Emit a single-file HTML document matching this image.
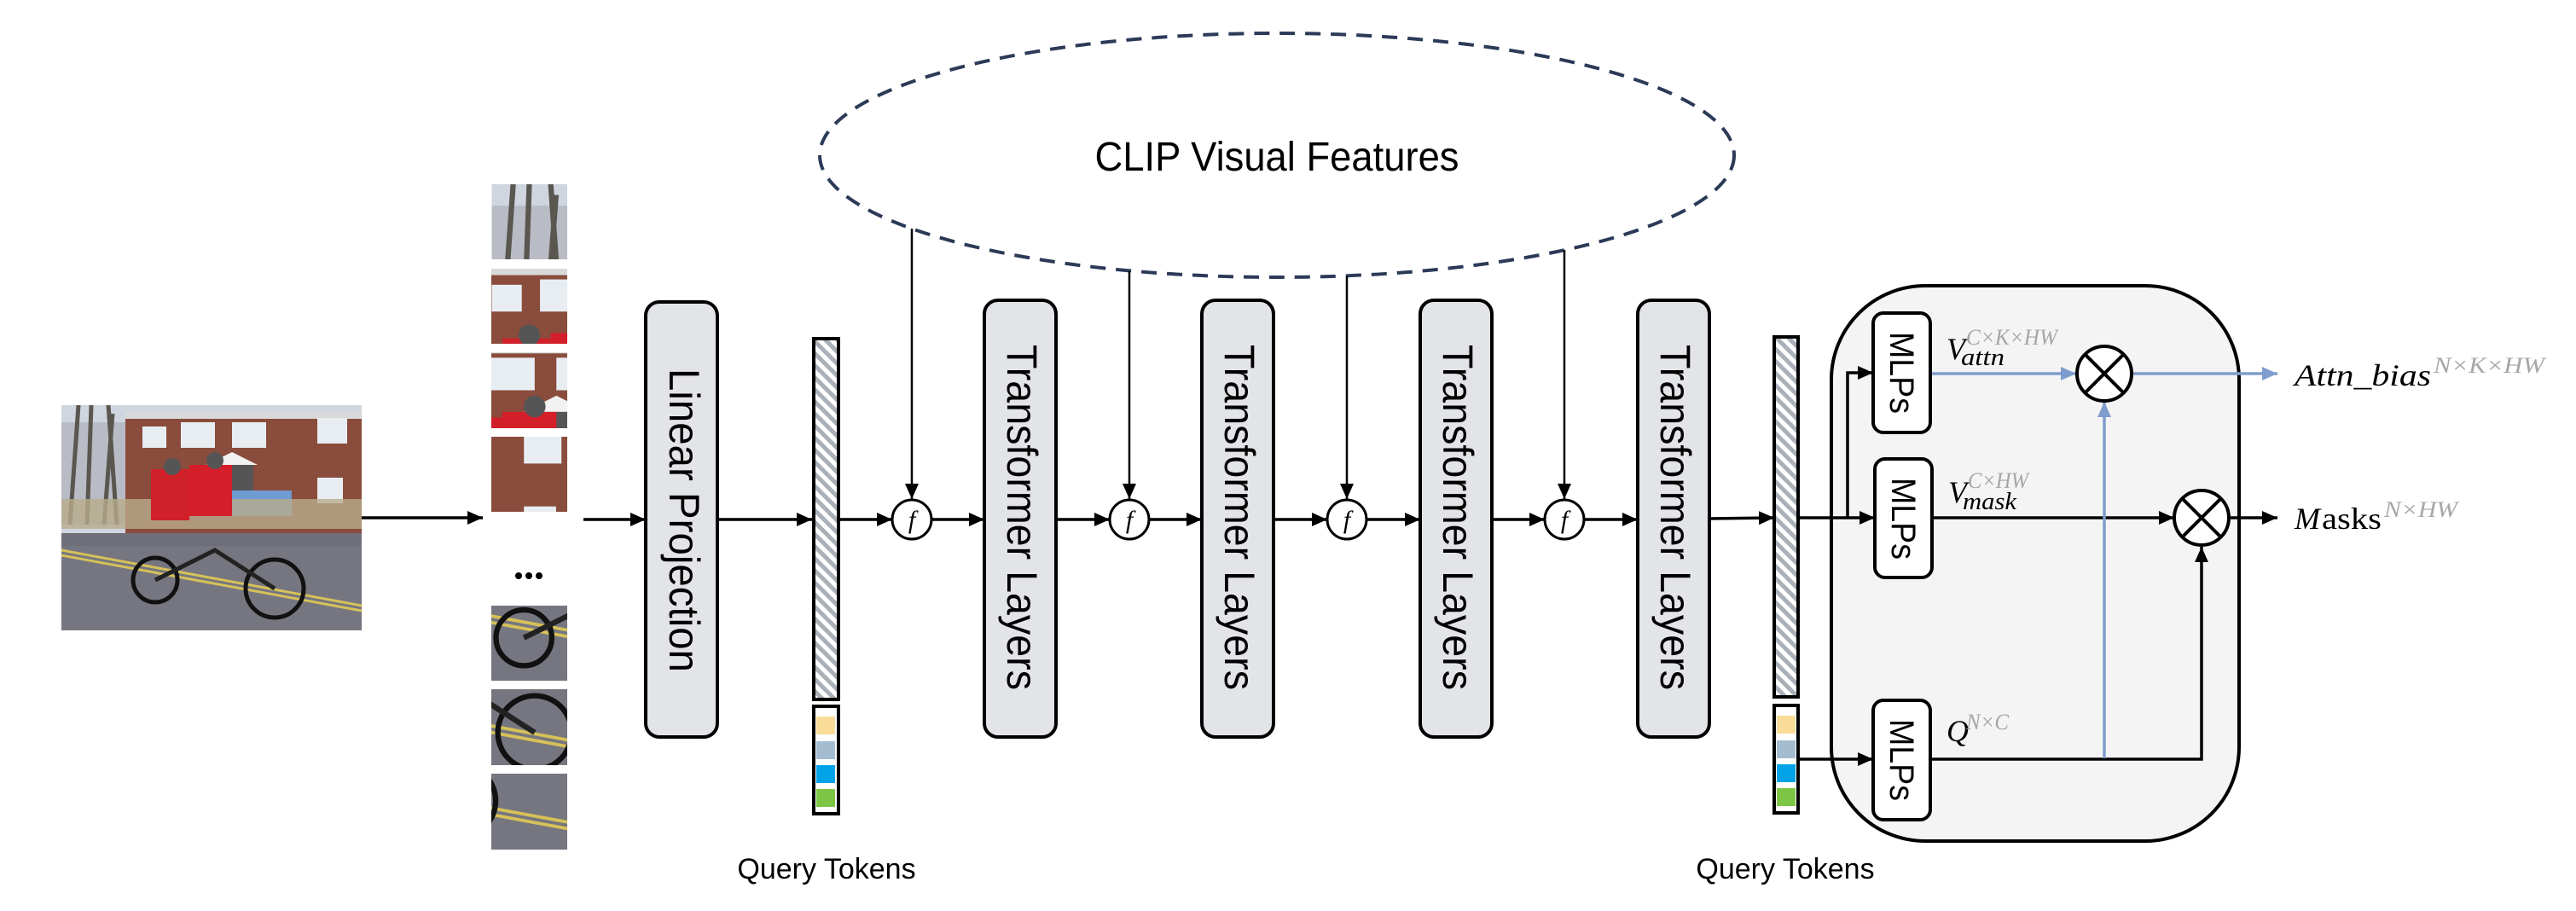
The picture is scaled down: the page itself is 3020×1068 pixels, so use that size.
<!DOCTYPE html>
<html><head><meta charset="utf-8"><style>
html,body{margin:0;padding:0;background:#fff;}
svg{display:block;}
.t{font-family:"Liberation Sans",sans-serif;}
.m{font-family:"Liberation Serif",serif;font-style:italic;}
.g{fill:#a6a6a6;}
</style></head><body>
<svg width="3020" height="1068" viewBox="0 0 3020 1068" xmlns="http://www.w3.org/2000/svg">
<defs>
<marker id="ab" markerUnits="userSpaceOnUse" markerWidth="20" markerHeight="20" refX="18" refY="10" orient="auto"><path d="M0,2 L18,10 L0,18 Z" fill="#000"/></marker>
<marker id="abl" markerUnits="userSpaceOnUse" markerWidth="20" markerHeight="20" refX="18" refY="10" orient="auto"><path d="M0,2 L18,10 L0,18 Z" fill="#7f9dcc"/></marker>
<pattern id="hatch" patternUnits="userSpaceOnUse" width="10" height="10" patternTransform="rotate(-45)">
<rect width="10" height="10" fill="#fff"/><rect width="5" height="10" fill="#a9b0b8"/></pattern>
<symbol id="scene" viewBox="0 0 352 264">
<rect width="352" height="264" fill="#6e6f78"/>
<rect width="352" height="150" fill="#cfd6e0"/>
<rect x="0" y="20" width="75" height="120" fill="#b9bcc4"/>
<path d="M10,140 L20,0 M30,140 L35,0 M50,140 L60,10 M65,140 L55,0" stroke="#5a5650" stroke-width="5"/>
<rect x="75" y="10" width="277" height="140" fill="#8a4c3c"/>
<rect x="75" y="8" width="277" height="8" fill="#d9d9d9"/>
<rect x="95" y="25" width="28" height="25" fill="#e8edf2"/>
<rect x="140" y="20" width="40" height="30" fill="#e8edf2"/>
<rect x="200" y="20" width="40" height="30" fill="#e8edf2"/>
<rect x="300" y="15" width="35" height="30" fill="#e8edf2"/>
<rect x="300" y="85" width="30" height="30" fill="#e8edf2"/>
<path d="M170,70 L200,55 L230,70 Z" fill="#f2f2f2"/>
<rect x="175" y="70" width="50" height="30" fill="#555"/>
<rect x="190" y="100" width="80" height="30" fill="#6f9bd1"/>
<rect x="0" y="110" width="352" height="35" fill="#b8ab8c" opacity="0.8"/>
<rect x="0" y="165" width="352" height="99" fill="#75767f"/>
<path d="M0,170 L352,235 M0,176 L352,241" stroke="#d6c15a" stroke-width="3"/>
<rect x="105" y="75" width="45" height="60" fill="#d0202a"/>
<rect x="150" y="70" width="50" height="60" fill="#d41e2a"/>
<circle cx="130" cy="72" r="10" fill="#555"/><circle cx="180" cy="65" r="10" fill="#555"/>
<circle cx="110" cy="205" r="26" fill="none" stroke="#111" stroke-width="5"/>
<circle cx="250" cy="215" r="34" fill="none" stroke="#111" stroke-width="5"/>
<path d="M110,205 L180,170 L250,215" stroke="#222" stroke-width="5" fill="none"/>
</symbol>
</defs>

<svg x="72" y="475" width="352" height="264" viewBox="0 0 352 264" preserveAspectRatio="none"><use href="#scene" width="352" height="264"/></svg>
<svg x="576" y="216" width="89" height="88" viewBox="0 0 70 70"><use href="#scene" width="352" height="264"/></svg>
<svg x="576" y="315" width="89" height="88" viewBox="95 10 70 70"><use href="#scene" width="352" height="264"/></svg>
<svg x="576" y="413" width="89" height="89" viewBox="140 15 70 70"><use href="#scene" width="352" height="264"/></svg>
<svg x="576" y="512" width="89" height="88" viewBox="270 20 70 70"><use href="#scene" width="352" height="264"/></svg>
<svg x="576" y="710" width="89" height="88" viewBox="80 175 70 70"><use href="#scene" width="352" height="264"/></svg>
<svg x="576" y="808" width="89" height="89" viewBox="210 175 70 70"><use href="#scene" width="352" height="264"/></svg>
<svg x="576" y="907" width="89" height="89" viewBox="280 190 70 70"><use href="#scene" width="352" height="264"/></svg>
<circle cx="608" cy="675" r="4" fill="#000"/><circle cx="620" cy="675" r="4" fill="#000"/><circle cx="632" cy="675" r="4" fill="#000"/>

<ellipse cx="1497" cy="182" rx="536" ry="143" fill="none" stroke="#2b3a57" stroke-width="4" stroke-dasharray="18,12"/>
<text class="t" x="1497" y="200" font-size="48" text-anchor="middle" textLength="427" lengthAdjust="spacingAndGlyphs">CLIP Visual Features</text>

<g stroke="#000" stroke-width="3.5" fill="none">
<line x1="424" y1="607" x2="566" y2="607" marker-end="url(#ab)"/>
<line x1="684" y1="609" x2="757" y2="609" marker-end="url(#ab)"/>
<line x1="841" y1="609" x2="952" y2="609" marker-end="url(#ab)"/>
<line x1="983" y1="609" x2="1046" y2="609" marker-end="url(#ab)"/>
<line x1="1092" y1="609" x2="1154" y2="609" marker-end="url(#ab)"/>
<line x1="1238" y1="609" x2="1301" y2="609" marker-end="url(#ab)"/>
<line x1="1347" y1="609" x2="1409" y2="609" marker-end="url(#ab)"/>
<line x1="1493" y1="609" x2="1556" y2="609" marker-end="url(#ab)"/>
<line x1="1602" y1="609" x2="1665" y2="609" marker-end="url(#ab)"/>
<line x1="1748" y1="609" x2="1811" y2="609" marker-end="url(#ab)"/>
<line x1="1857" y1="609" x2="1920" y2="609" marker-end="url(#ab)"/>
<line x1="2003" y1="608" x2="2080" y2="607" marker-end="url(#ab)"/>
<line x1="1069" y1="268" x2="1069" y2="585" stroke-width="2.5" marker-end="url(#ab)"/>
<line x1="1324" y1="318" x2="1324" y2="585" stroke-width="2.5" marker-end="url(#ab)"/>
<line x1="1579" y1="324" x2="1579" y2="585" stroke-width="2.5" marker-end="url(#ab)"/>
<line x1="1834" y1="293" x2="1834" y2="585" stroke-width="2.5" marker-end="url(#ab)"/>
</g>

<g fill="#fff" stroke="#000" stroke-width="3">
<circle cx="1069" cy="609" r="23"/><circle cx="1324" cy="609" r="23"/><circle cx="1579" cy="609" r="23"/><circle cx="1834" cy="609" r="23"/>
</g>
<g class="m" font-size="30" text-anchor="middle">
<text x="1069" y="619">f</text><text x="1324" y="619">f</text><text x="1579" y="619">f</text><text x="1834" y="619">f</text>
</g>

<g fill="#e3e4e8" stroke="#000" stroke-width="4">
<rect x="757" y="354" width="84" height="510" rx="16"/>
<rect x="1154" y="352" width="84" height="512" rx="16"/>
<rect x="1409" y="352" width="84" height="512" rx="16"/>
<rect x="1665" y="352" width="84" height="512" rx="16"/>
<rect x="1920" y="352" width="84" height="512" rx="16"/>
</g>
<g class="t" font-size="50" fill="#000">
<text transform="translate(785,432) rotate(90)" textLength="356" lengthAdjust="spacingAndGlyphs">Linear Projection</text>
<text transform="translate(1181,404) rotate(90)" textLength="405" lengthAdjust="spacingAndGlyphs">Transformer Layers</text>
<text transform="translate(1436,404) rotate(90)" textLength="405" lengthAdjust="spacingAndGlyphs">Transformer Layers</text>
<text transform="translate(1692,404) rotate(90)" textLength="405" lengthAdjust="spacingAndGlyphs">Transformer Layers</text>
<text transform="translate(1947,404) rotate(90)" textLength="405" lengthAdjust="spacingAndGlyphs">Transformer Layers</text>
</g>

<g stroke="#000" stroke-width="4">
<rect x="954" y="397" width="29" height="423" fill="url(#hatch)"/>
<rect x="954" y="828" width="29" height="126" fill="#fff"/>
<rect x="2080" y="395" width="28" height="422" fill="url(#hatch)"/>
<rect x="2080" y="827" width="28" height="126" fill="#fff"/>
</g>
<g>
<rect x="957" y="840" width="22" height="21" fill="#f9dc98"/><rect x="957" y="869" width="22" height="21" fill="#a3bcd0"/>
<rect x="957" y="897" width="22" height="21" fill="#00a2e8"/><rect x="957" y="925" width="22" height="21" fill="#7cc545"/>
<rect x="2083" y="839" width="22" height="21" fill="#f9dc98"/><rect x="2083" y="868" width="22" height="21" fill="#a3bcd0"/>
<rect x="2083" y="896" width="22" height="21" fill="#00a2e8"/><rect x="2083" y="924" width="22" height="21" fill="#7cc545"/>
</g>
<text class="t" x="969" y="1030" font-size="34" text-anchor="middle">Query Tokens</text>
<text class="t" x="2093" y="1030" font-size="34" text-anchor="middle">Query Tokens</text>

<rect x="2147" y="335" width="478" height="651" rx="110" fill="#f4f4f4" stroke="#000" stroke-width="4"/>
<g stroke="#000" stroke-width="3.5" fill="none">
<line x1="2108" y1="607" x2="2198" y2="607" marker-end="url(#ab)"/>
<polyline points="2166,607 2166,437 2196,437" marker-end="url(#ab)"/>
<line x1="2108" y1="890" x2="2196" y2="890" marker-end="url(#ab)"/>
<line x1="2265" y1="607" x2="2549" y2="607" marker-end="url(#ab)"/>
<polyline points="2263,890 2581,890 2581,641" marker-end="url(#ab)"/>
<line x1="2613" y1="607" x2="2670" y2="607" marker-end="url(#ab)"/>
</g>
<g stroke="#7f9dcc" stroke-width="3.5" fill="none">
<line x1="2263" y1="438" x2="2434" y2="438" marker-end="url(#abl)"/>
<line x1="2499" y1="438" x2="2670" y2="438" marker-end="url(#abl)"/>
<line x1="2467" y1="889" x2="2467" y2="471" marker-end="url(#abl)"/>
</g>
<g fill="#fff" stroke="#000" stroke-width="4">
<circle cx="2467" cy="438" r="32"/><circle cx="2581" cy="607" r="32"/>
<path d="M2444.4,415.4 L2489.6,460.6 M2489.6,415.4 L2444.4,460.6" fill="none"/>
<path d="M2558.4,584.4 L2603.6,629.6 M2603.6,584.4 L2558.4,629.6" fill="none"/>
</g>
<g fill="#fff" stroke="#000" stroke-width="4">
<rect x="2196" y="367" width="67" height="140" rx="12"/>
<rect x="2198" y="538" width="67" height="139" rx="12"/>
<rect x="2196" y="821" width="67" height="140" rx="12"/>
</g>
<g class="t" font-size="40">
<text transform="translate(2216,389) rotate(90)" textLength="96" lengthAdjust="spacingAndGlyphs">MLPs</text>
<text transform="translate(2218,560) rotate(90)" textLength="96" lengthAdjust="spacingAndGlyphs">MLPs</text>
<text transform="translate(2216,843) rotate(90)" textLength="96" lengthAdjust="spacingAndGlyphs">MLPs</text>
</g>
<g class="m">
<text x="2282" y="421" font-size="36">V</text>
<text x="2299" y="428" font-size="28" textLength="51" lengthAdjust="spacingAndGlyphs">attn</text>
<text x="2305" y="404" font-size="26" class="g" textLength="107" lengthAdjust="spacingAndGlyphs">C×K×HW</text>
<text x="2284" y="589" font-size="36">V</text>
<text x="2301" y="597" font-size="28" textLength="63" lengthAdjust="spacingAndGlyphs">mask</text>
<text x="2307" y="572" font-size="26" class="g" textLength="71" lengthAdjust="spacingAndGlyphs">C×HW</text>
<text x="2282" y="869" font-size="36">Q</text>
<text x="2305" y="855" font-size="26" class="g" textLength="50" lengthAdjust="spacingAndGlyphs">N×C</text>
<text x="2690" y="452" font-size="36" textLength="160" lengthAdjust="spacingAndGlyphs">Attn_bias</text>
<text x="2853" y="437" font-size="26" class="g" textLength="130" lengthAdjust="spacingAndGlyphs">N×K×HW</text>
<text x="2690" y="620" font-size="36">M</text>
<text x="2722" y="620" font-size="36" font-style="normal" textLength="70" lengthAdjust="spacingAndGlyphs">asks</text>
<text x="2795" y="606" font-size="26" class="g" textLength="86" lengthAdjust="spacingAndGlyphs">N×HW</text>
</g>
</svg>
</body></html>
